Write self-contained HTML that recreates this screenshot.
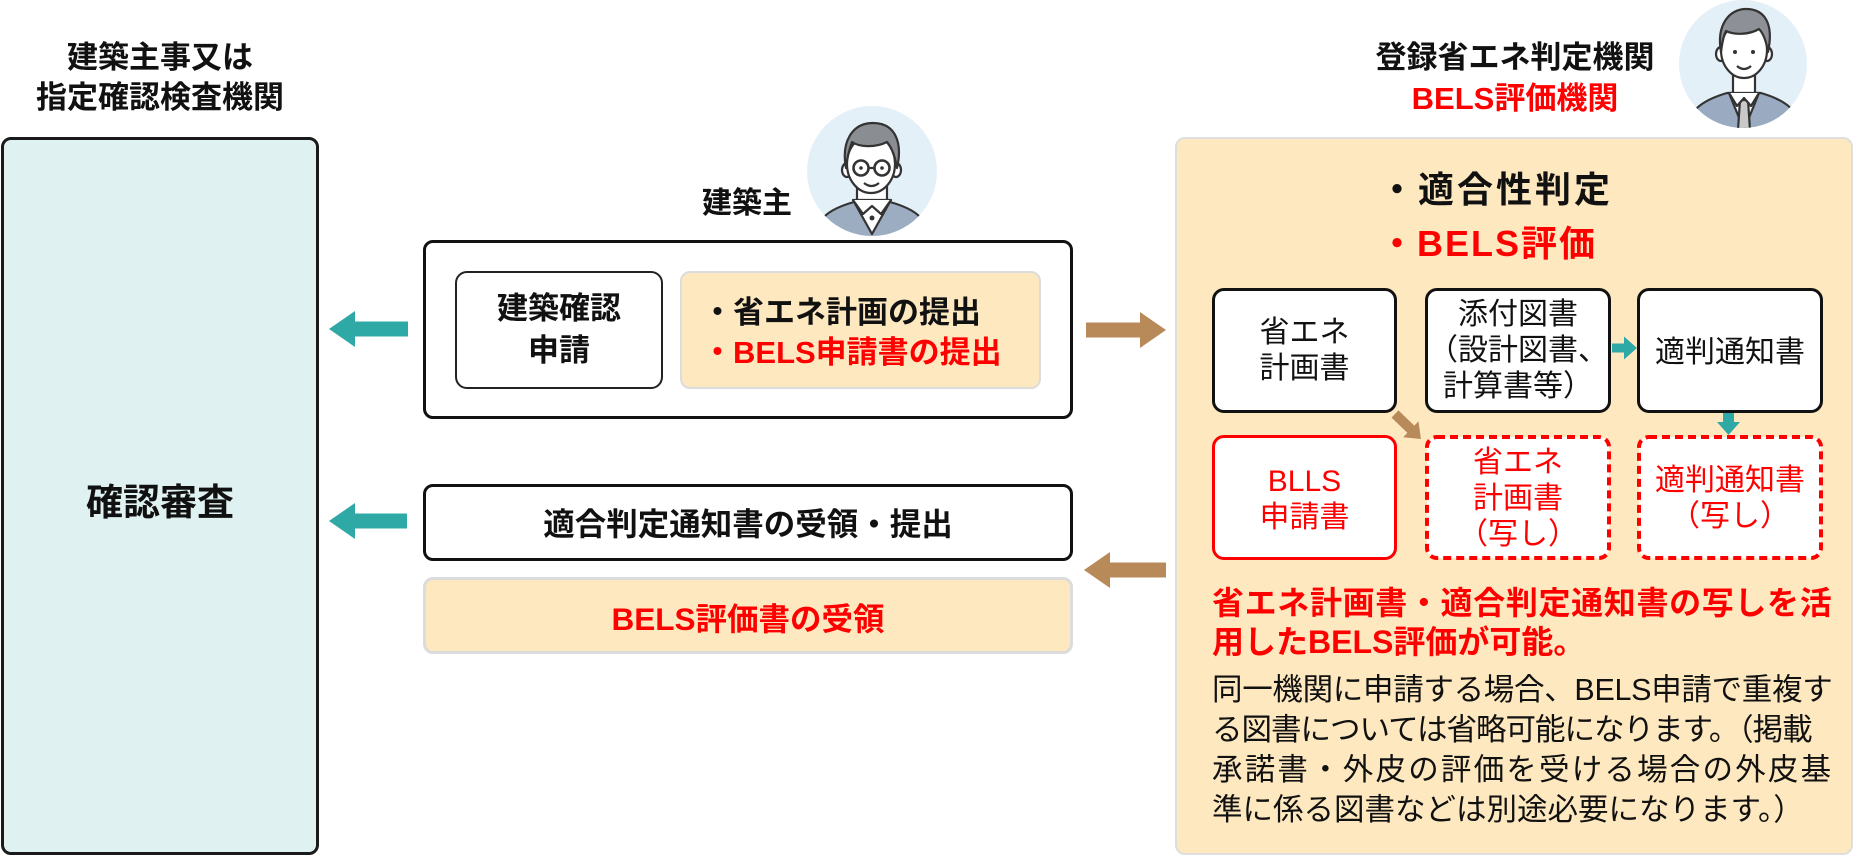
<!DOCTYPE html>
<html><head><meta charset="utf-8">
<style>
*{box-sizing:border-box;margin:0;padding:0}
html,body{width:1856px;height:857px;overflow:hidden;background:#fff}
body{position:relative;font-family:"Liberation Sans","Noto Sans CJK JP",sans-serif;color:#111}
.a{position:absolute}
.bx{position:absolute;border-radius:10px}
.c{display:flex;align-items:center;justify-content:center;text-align:center}
.b{font-weight:700}
.red{color:#f00}
.sub{position:absolute;font-size:30px;line-height:36px;display:flex;align-items:center;justify-content:center;text-align:center;white-space:nowrap}
.ln{white-space:nowrap}
</style></head><body>

<!-- Left column -->
<div class="a b" style="left:0;top:38px;width:320px;font-size:31px;line-height:40px;text-align:center">建築主事又は<br>指定確認検査機関</div>
<div class="bx" style="left:1px;top:137px;width:318px;height:718px;background:#e0f1f1;border:3px solid #1a1a1a"></div>
<div class="a b" style="left:1px;top:480px;width:318px;font-size:37px;line-height:46px;text-align:center">確認審査</div>

<!-- Applicant label -->
<div class="a b" style="left:702px;top:186px;font-size:30px;line-height:36px">建築主</div>

<!-- Top group -->
<div class="bx" style="left:423px;top:240px;width:650px;height:179px;background:#fff;border:3px solid #111"></div>
<div class="bx c b" style="left:455px;top:271px;width:208px;height:118px;background:#fff;border:2px solid #222;border-radius:12px;font-size:31px;line-height:42px">建築確認<br>申請</div>
<div class="bx" style="left:680px;top:271px;width:361px;height:118px;background:#fee8bf;border:2px solid #dcdcdc"></div>
<div class="a b ln" style="left:702px;top:293px;font-size:31px;line-height:40px">・省エネ計画の提出</div>
<div class="a b ln red" style="left:702px;top:333px;font-size:31px;line-height:40px">・BELS申請書の提出</div>

<!-- Lower group -->
<div class="bx c b" style="left:423px;top:484px;width:650px;height:77px;background:#fff;border:3px solid #111;font-size:31.5px;line-height:40px;padding-top:2px">適合判定通知書の受領・提出</div>
<div class="bx c b red" style="left:423px;top:577px;width:650px;height:77px;background:#fee8bf;border:3px solid #dcdcdc;font-size:31.5px;line-height:40px;padding-top:6px">BELS評価書の受領</div>

<!-- Right title -->
<div class="a b" style="left:1357px;top:37px;width:316px;font-size:31px;line-height:41px;text-align:center">登録省エネ判定機関<br><span class="red">BELS評価機関</span></div>

<!-- Right box -->
<div class="bx" style="left:1175px;top:137px;width:678px;height:718px;background:#fee8bf;border:2px solid #dedede"></div>
<div class="a b ln" style="left:1379px;top:166px;font-size:36px;line-height:48px;letter-spacing:3px">・適合性判定</div>
<div class="a b ln red" style="left:1379px;top:220px;font-size:36px;line-height:48px;letter-spacing:2px">・BELS評価</div>

<div class="bx" style="left:1212px;top:288px;width:185px;height:125px;background:#fff;border:3.5px solid #111;border-radius:12px"></div>
<div class="sub" style="left:1212px;top:288px;width:185px;height:125px">省エネ<br>計画書</div>
<div class="bx" style="left:1425px;top:288px;width:186px;height:125px;background:#fff;border:3.5px solid #111;border-radius:12px"></div>
<div class="sub" style="left:1425px;top:288px;width:186px;height:125px">添付図書<br>（設計図書、<br>計算書等）</div>
<div class="bx" style="left:1637px;top:288px;width:186px;height:125px;background:#fff;border:3.5px solid #111;border-radius:12px"></div>
<div class="sub" style="left:1637px;top:288px;width:186px;height:125px;padding-top:4px">適判通知書</div>

<div class="bx" style="left:1212px;top:435px;width:185px;height:125px;background:#fff;border:3.5px solid #f00;border-radius:12px"></div>
<div class="sub red" style="left:1212px;top:435px;width:185px;height:125px;padding-top:4px">BLLS<br>申請書</div>
<svg class="a" style="left:1425px;top:435px" width="186" height="125"><rect x="2" y="2" width="182" height="121" rx="10" fill="#fff" stroke="#f00" stroke-width="4" stroke-dasharray="8 5"/></svg>
<div class="sub red" style="left:1425px;top:435px;width:186px;height:125px;padding-top:2px">省エネ<br>計画書<br>（写し）</div>
<svg class="a" style="left:1637px;top:435px" width="186" height="125"><rect x="2" y="2" width="182" height="121" rx="10" fill="#fff" stroke="#f00" stroke-width="4" stroke-dasharray="8 5"/></svg>
<div class="sub red" style="left:1637px;top:435px;width:186px;height:125px;padding-top:2px">適判通知書<br>（写し）</div>

<!-- Paragraph -->
<div class="a b red ln" style="left:1212px;top:584px;font-size:32px;line-height:39px;letter-spacing:0.65px">省エネ計画書・適合判定通知書の写しを活</div>
<div class="a b red ln" style="left:1212px;top:623px;font-size:32px;line-height:39px">用したBELS評価が可能。</div>
<div class="a ln" style="left:1212px;top:670px;font-size:30.5px;line-height:40px;letter-spacing:-0.3px">同一機関に申請する場合、BELS申請で重複す</div>
<div class="a ln" style="left:1212px;top:710px;font-size:30.5px;line-height:40px;letter-spacing:-1px">る図書については省略可能になります。（掲載</div>
<div class="a ln" style="left:1212px;top:750px;font-size:30.5px;line-height:40px;letter-spacing:2.2px">承諾書・外皮の評価を受ける場合の外皮基</div>
<div class="a ln" style="left:1212px;top:790px;font-size:30.5px;line-height:40px">準に係る図書などは別途必要になります。）</div>

<!-- Arrows + avatars -->
<svg class="a" style="left:0;top:0" width="1856" height="857">
<defs>
<clipPath id="c1"><circle cx="65" cy="65" r="65"/></clipPath>
<clipPath id="c2"><circle cx="64" cy="64" r="64"/></clipPath>
</defs>
<g fill="#2fa9a5">
<polygon points="329,329 355,311 355,321.5 408,321.5 408,336.5 355,336.5 355,347"/>
<polygon points="329,521 355,503 355,513.5 407,513.5 407,528.5 355,528.5 355,539"/>
<polygon points="1612,343.5 1624,343.5 1624,336.5 1637,348 1624,359.5 1624,352.5 1612,352.5"/>
<polygon points="1723,413 1734,413 1734,422 1740,422 1728.5,435 1717,422 1723,422"/>
</g>
<g fill="#b88a5a">
<polygon points="1166,330 1140,312 1140,322.5 1086,322.5 1086,337.5 1140,337.5 1140,348"/>
<polygon points="1084,570 1110,552 1110,562.5 1166,562.5 1166,577.5 1110,577.5 1110,588"/>
<g transform="translate(1395,414) rotate(44)"><polygon points="0,-5 22,-5 22,-11 36,0 22,11 22,5 0,5"/></g>
</g>

<!-- left avatar -->
<g transform="translate(807,106)">
<circle cx="65" cy="65" r="65" fill="#e4f0f8"/>
<g clip-path="url(#c1)" stroke="#333" stroke-width="2.2" stroke-linejoin="round">
<path d="M6,140 C8,112 22,103 47,96 L83,96 C108,103 122,112 124,140 Z" fill="#9dadc1"/>
<path d="M50,78 L50,98 L80,98 L80,78 Z" fill="#fff"/>
<path d="M46,94 L65,128 L84,94 Z" fill="#fff"/>
<path d="M46,94 L56,108 L65,100 L74,108 L84,94" fill="#fff"/>
<circle cx="65" cy="112" r="2.5" fill="#333" stroke="none"/>
<ellipse cx="40" cy="64" rx="5" ry="7" fill="#fff"/>
<ellipse cx="89" cy="64" rx="5" ry="7" fill="#fff"/>
<ellipse cx="64" cy="58" rx="24" ry="29" fill="#fff"/>
<path d="M39,62 C34,36 45,17 66,17 C88,17 96,36 90,62 C88,50 85,42 80,36 C68,42 52,41 45,36 C42,44 40,52 39,62 Z" fill="#8a8d92"/>
<circle cx="54" cy="62" r="7.5" fill="none" stroke-width="2.6"/>
<circle cx="75" cy="62" r="7.5" fill="none" stroke-width="2.6"/>
<line x1="61.5" y1="62" x2="67.5" y2="62"/>
<circle cx="54" cy="62" r="1.8" fill="#333" stroke="none"/>
<circle cx="75" cy="62" r="1.8" fill="#333" stroke="none"/>
<path d="M57,77 Q64.5,83 72,77" fill="none"/>
</g>
</g>

<!-- right avatar -->
<g transform="translate(1679,0)">
<circle cx="64" cy="64" r="64" fill="#e4f0f8"/>
<g clip-path="url(#c2)" stroke="#333" stroke-width="2.2" stroke-linejoin="round">
<path d="M4,140 C7,110 24,100 48,93 L82,93 C106,100 122,110 126,140 Z" fill="#9aabc1"/>
<path d="M54,68 L54,95 L76,95 L76,68 Z" fill="#fff"/>
<path d="M50,93 L65,130 L80,93 Z" fill="#fff"/>
<path d="M61,100 L69,100 L71,130 L59,130 Z" fill="#c9c9c9"/>
<path d="M50,93 L58,106 L65,98 L72,106 L80,93" fill="#fff"/>
<ellipse cx="42" cy="54" rx="5" ry="7" fill="#fff"/>
<ellipse cx="88" cy="54" rx="5" ry="7" fill="#fff"/>
<ellipse cx="65" cy="50" rx="23" ry="28" fill="#fff"/>
<path d="M42,52 C37,24 51,9 67,9 C86,9 95,24 89,52 C87,40 84,33 80,29 C70,35 55,35 47,31 C44,37 43,44 42,52 Z" fill="#8d9096"/>
<circle cx="56" cy="52" r="2" fill="#333" stroke="none"/>
<circle cx="74" cy="52" r="2" fill="#333" stroke="none"/>
<path d="M58,66 Q65,72 72,66" fill="none"/>
</g>
</g>
</svg>
</body></html>
